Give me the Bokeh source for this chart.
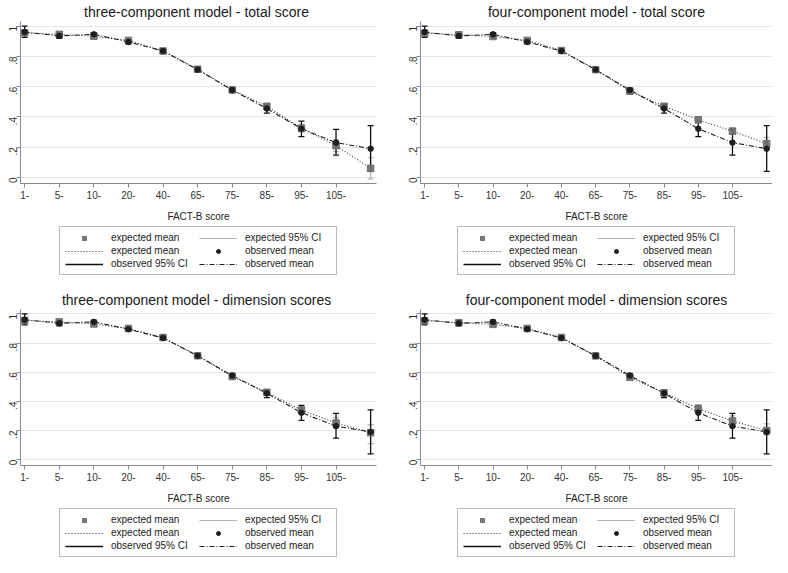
import math
from bokeh.plotting import figure
from bokeh.layouts import column, row
from bokeh.models import (ColumnDataSource, FixedTicker, Range1d, Legend, LegendItem,
                          Whisker, TeeHead)
from bokeh.embed import file_html
from bokeh.resources import INLINE

categories = ["1-", "5-", "10-", "20-", "40-", "65-", "75-", "85-", "95-", "105-", ""]
xpos = list(range(1, 12))
y_ticks = [0, 0.2, 0.4, 0.6, 0.8, 1.0]
y_tick_labels = ["0", ".2", ".4", ".6", ".8", "1"]

titles = [
    "three-component  model - total score",
    "four-component model - total score",
    "three-component  model - dimension scores",
    "four-component model - dimension scores",
]

# observed data (same in every panel)
obs_mean = [0.960, 0.935, 0.945, 0.895, 0.835, 0.712, 0.577, 0.455, 0.322, 0.230, 0.190]
obs_lo = [0.925, 0.918, 0.933, 0.883, 0.826, 0.700, 0.562, 0.425, 0.270, 0.148, 0.040]
obs_hi = [1.000, 0.952, 0.957, 0.908, 0.845, 0.724, 0.592, 0.480, 0.372, 0.318, 0.342]

# expected (model-based) means and 95% CI per panel
exp_mean_1 = [0.955, 0.945, 0.933, 0.905, 0.835, 0.715, 0.578, 0.470, 0.325, 0.210, 0.060]
exp_lo_1 = [0.940, 0.935, 0.925, 0.895, 0.828, 0.708, 0.570, 0.455, 0.300, 0.170, -0.010]
exp_hi_1 = [0.970, 0.955, 0.941, 0.915, 0.842, 0.722, 0.586, 0.485, 0.350, 0.250, 0.130]

exp_mean_2 = [0.953, 0.942, 0.931, 0.905, 0.838, 0.712, 0.570, 0.470, 0.381, 0.305, 0.224]
exp_lo_2 = [0.935, 0.932, 0.923, 0.897, 0.832, 0.705, 0.555, 0.458, 0.362, 0.288, 0.190]
exp_hi_2 = [0.970, 0.952, 0.940, 0.913, 0.845, 0.720, 0.585, 0.482, 0.400, 0.330, 0.265]

exp_mean_3 = [0.955, 0.945, 0.931, 0.900, 0.838, 0.713, 0.570, 0.462, 0.340, 0.252, 0.185]
exp_lo_3 = [0.940, 0.935, 0.923, 0.892, 0.832, 0.706, 0.560, 0.450, 0.320, 0.220, 0.110]
exp_hi_3 = [0.970, 0.955, 0.940, 0.908, 0.845, 0.720, 0.580, 0.475, 0.360, 0.290, 0.240]

exp_mean_4 = [0.953, 0.940, 0.928, 0.900, 0.838, 0.712, 0.565, 0.458, 0.350, 0.265, 0.200]
exp_lo_4 = [0.935, 0.930, 0.920, 0.892, 0.832, 0.705, 0.552, 0.445, 0.325, 0.230, 0.170]
exp_hi_4 = [0.970, 0.950, 0.936, 0.908, 0.845, 0.720, 0.578, 0.472, 0.372, 0.300, 0.245]

expected = [
    (exp_mean_1, exp_lo_1, exp_hi_1),
    (exp_mean_2, exp_lo_2, exp_hi_2),
    (exp_mean_3, exp_lo_3, exp_hi_3),
    (exp_mean_4, exp_lo_4, exp_hi_4),
]

FONT = "Liberation Sans"
AXIS_GREY = "#8a8a8a"
EXP_CI = "#b4b4b4"
SQ = "#6e6e6e"
DARK = "#1e1e1e"
OBS_CI = "#111111"


def add_glyphs(p, src, whiskers):
    r = {}
    r["l_exp"] = p.line("x", "em", source=src, line_color="#333333", line_width=1.1,
                        line_dash="1 2")
    r["l_obs"] = p.line("x", "om", source=src, line_color=DARK, line_width=1.1,
                        line_dash="5 2 1 2")
    r["s_exp"] = p.segment(x0="x", y0="elo", x1="x", y1="ehi", source=src,
                           line_color=EXP_CI, line_width=1.2)
    r["s_obs"] = p.segment(x0="x", y0="olo", x1="x", y1="ohi", source=src,
                           line_color=OBS_CI, line_width=1.3)
    if whiskers:
        p.add_layout(Whisker(base="x", lower="elo", upper="ehi", source=src, line_alpha=0,
                             upper_head=TeeHead(size=6, line_color=EXP_CI, line_width=1.2),
                             lower_head=TeeHead(size=6, line_color=EXP_CI, line_width=1.2)))
        p.add_layout(Whisker(base="x", lower="olo", upper="ohi", source=src, line_alpha=0,
                             upper_head=TeeHead(size=6, line_color=OBS_CI, line_width=1.3),
                             lower_head=TeeHead(size=6, line_color=OBS_CI, line_width=1.3)))
    r["m_exp"] = p.scatter("x", "em", source=src, marker="square", size=6.5,
                           fill_color=SQ, line_color=SQ, fill_alpha=0.9)
    r["m_obs"] = p.scatter("x", "om", source=src, marker="circle", size=5.5,
                           fill_color=DARK, line_color=DARK)
    return r


def make_panel(idx, width, height, leg_height, border_left, border_right):
    em, elo, ehi = expected[idx]
    src = ColumnDataSource(dict(x=xpos, em=em, elo=elo, ehi=ehi,
                                om=obs_mean, olo=obs_lo, ohi=obs_hi))
    p = figure(width=width, height=height, output_backend="svg", toolbar_location=None,
               x_range=Range1d(0.88, 11.17), y_range=Range1d(-0.04, 1.03),
               min_border_left=border_left, min_border_right=border_right,
               min_border_top=0, min_border_bottom=0)
    p.title.text = titles[idx]
    p.title.align = "center"
    p.title.text_font = FONT
    p.title.text_font_size = "14px"
    p.title.text_font_style = "normal"
    p.title.text_color = "#1a1a1a"
    p.title.standoff = 3
    p.outline_line_color = None

    p.xaxis.ticker = FixedTicker(ticks=xpos[:10])
    p.xaxis.major_label_overrides = {xv: lab for xv, lab in zip(xpos, categories) if lab}
    p.yaxis.ticker = FixedTicker(ticks=y_ticks)
    p.yaxis.major_label_overrides = {v: lab for v, lab in zip(y_ticks, y_tick_labels)}
    p.yaxis.major_label_orientation = math.pi / 2
    for ax in (p.xaxis[0], p.yaxis[0]):
        ax.axis_line_color = AXIS_GREY
        ax.major_tick_line_color = AXIS_GREY
        ax.major_tick_out = 4
        ax.major_tick_in = 0
        ax.minor_tick_line_color = None
        ax.major_label_text_font = FONT
        ax.major_label_text_font_size = "10px"
        ax.major_label_text_color = "#333333"
        ax.major_label_standoff = 3
    p.xaxis.axis_label = "FACT-B score"
    p.xaxis.axis_label_text_font = FONT
    p.xaxis.axis_label_text_font_size = "10px"
    p.xaxis.axis_label_text_font_style = "normal"
    p.xaxis.axis_label_text_color = "#222222"
    p.xaxis.axis_label_standoff = 9
    p.xgrid.grid_line_color = None
    p.ygrid.grid_line_color = "#e6e6e6"
    p.ygrid.grid_line_width = 1.2

    add_glyphs(p, src, True)

    # legend lives in its own strip under the plot; its renderers are out of view
    lf = figure(width=width, height=leg_height, output_backend="svg", toolbar_location=None,
                x_range=Range1d(100, 101), y_range=Range1d(100, 101),
                x_axis_type=None, y_axis_type=None,
                min_border_left=p.min_border_left, min_border_right=border_right,
                min_border_top=0, min_border_bottom=0)
    lf.outline_line_color = None
    lf.grid.visible = False
    r = add_glyphs(lf, src, False)
    legend = Legend(items=[
        LegendItem(label="expected mean", renderers=[r["m_exp"]]),
        LegendItem(label="expected mean", renderers=[r["l_exp"]]),
        LegendItem(label="observed 95% CI", renderers=[r["s_obs"]]),
        LegendItem(label="expected 95% CI", renderers=[r["s_exp"]]),
        LegendItem(label="observed mean", renderers=[r["m_obs"]]),
        LegendItem(label="observed mean", renderers=[r["l_obs"]]),
    ], orientation="vertical", nrows=3, location="top_center")
    legend.label_text_font = FONT
    legend.label_text_font_size = "10px"
    legend.label_text_color = "#222222"
    legend.glyph_width = 38
    legend.glyph_height = 10
    legend.label_height = 10
    legend.label_width = 86
    legend.label_standoff = 8
    legend.spacing = 2
    legend.padding = 5
    legend.margin = 2
    legend.border_line_color = "#7a7a7a"
    legend.border_line_width = 1
    legend.background_fill_color = "white"
    lf.add_layout(legend)
    return column(p, lf, spacing=0)


c1 = make_panel(0, 384, 224, 64, 20, 8)
c2 = make_panel(1, 388, 224, 64, 36, 0)
c3 = make_panel(2, 384, 218, 51, 20, 8)
c4 = make_panel(3, 388, 218, 51, 36, 0)

page = column(row(c1, c2, spacing=0), row(c3, c4, spacing=0), spacing=0)

open("out.html", "w").write(file_html(page, INLINE))
